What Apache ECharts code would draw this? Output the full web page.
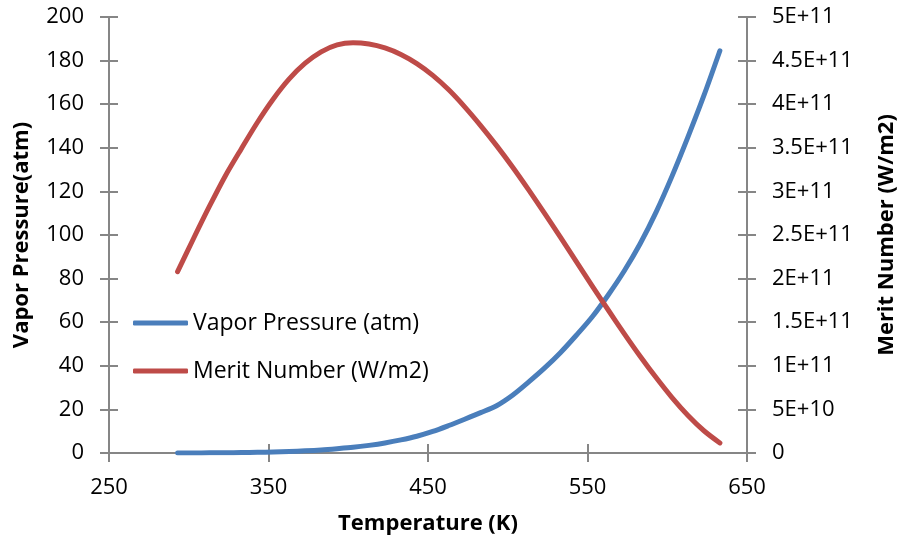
<!DOCTYPE html>
<html>
<head>
<meta charset="utf-8">
<script src="https://cdn.jsdelivr.net/npm/echarts@6/dist/echarts.min.js"></script>
<style>
html,body{margin:0;padding:0;background:#fff;}
#chart{width:906px;height:545px;}
</style>
</head>
<body>
<div id="chart"></div>
<script>
// Temperature (K)
var temperatures = [293,303,313,323,333,343,353,363,373,383,393,403,413,423,433,443,453,463,473,483,493,503,513,523,533,543,553,563,573,583,593,603,613,623,633];
// Vapor Pressure (atm)
var vaporPressure = [0.02,0.04,0.07,0.12,0.2,0.32,0.47,0.7,1.0,1.4,1.96,2.6,3.5,4.6,6.0,7.7,9.9,12.6,15.5,18.5,21.7,26.5,32.5,38.9,46.0,54.0,62.5,72.5,83.5,96.0,110.5,127.0,145.0,164.0,184.5];
// Merit Number (W/m2)
var meritNumber = [2.08e11,2.46e11,2.83e11,3.18e11,3.49e11,3.79e11,4.06e11,4.29e11,4.47e11,4.60e11,4.68e11,4.705e11,4.69e11,4.645e11,4.57e11,4.465e11,4.33e11,4.165e11,3.97e11,3.755e11,3.525e11,3.28e11,3.02e11,2.75e11,2.475e11,2.195e11,1.915e11,1.64e11,1.37e11,1.11e11,0.865e11,0.635e11,0.43e11,0.255e11,0.115e11];

var seriesNames = ['Vapor Pressure (atm)', 'Merit Number (W/m2)'];
var xTitle = 'Temperature (K)';
var yLeftTitle = 'Vapor Pressure(atm)';
var yRightTitle = 'Merit Number (W/m2)';

function pairs(xs, ys){ return xs.map(function(x,i){ return [x, ys[i]]; }); }
function sci(v){
  if (v === 0) return '0';
  var e = Math.floor(Math.log10(v) + 1e-9);
  var m = Math.round(v / Math.pow(10, e) * 10) / 10;
  return String(m) + 'E+' + e;
}

var FONT = '"Open Sans"';
var AX = '#868686';
var TXT = '#000';
var FS = 22;

var chart = echarts.init(document.getElementById('chart'), null, {renderer:'canvas'});
var option = {
  animation:false,
  backgroundColor:'#fff',
  textStyle:{fontFamily:FONT},
  grid:{left:109, right:149, top:17, bottom:92},
  legend:{
    orient:'vertical', left:133, top:311, padding:0,
    icon:'roundRect', itemWidth:55, itemHeight:5, itemGap:24,
    textStyle:{fontFamily:FONT, fontSize:23, color:TXT, lineHeight:24, padding:[0,0,0,0]},
    data: seriesNames
  },
  xAxis:[{
    type:'value', min:250, max:650, interval:100,
    name:xTitle, nameLocation:'middle', nameGap:60,
    nameTextStyle:{fontFamily:FONT, fontSize:FS, fontWeight:'bold', color:TXT},
    axisLine:{show:true, onZero:false, lineStyle:{color:AX, width:2}},
    axisTick:{show:true, inside:false, length:9, lineStyle:{color:AX, width:2}},
    axisLabel:{fontFamily:FONT, fontSize:FS, color:TXT, margin:24},
    splitLine:{show:false}
  },{
    type:'value', min:250, max:650, interval:100, position:'bottom',
    axisLine:{show:false},
    axisTick:{show:true, inside:true, length:9, lineStyle:{color:AX, width:2}},
    axisLabel:{show:false}, splitLine:{show:false}
  }],
  yAxis:[{
    type:'value', min:0, max:200, interval:20, position:'left',
    name:yLeftTitle, nameLocation:'middle', nameGap:76, nameRotate:90,
    nameTextStyle:{fontFamily:FONT, fontSize:FS, fontWeight:'bold', color:TXT},
    axisLine:{show:true, onZero:false, lineStyle:{color:AX, width:2}},
    axisTick:{show:true, inside:false, length:9, lineStyle:{color:AX, width:2}},
    axisLabel:{fontFamily:FONT, fontSize:FS, color:TXT, margin:25},
    splitLine:{show:false}
  },{
    type:'value', min:0, max:5e11, interval:5e10, position:'right',
    name:yRightTitle, nameLocation:'middle', nameGap:129, nameRotate:90,
    nameTextStyle:{fontFamily:FONT, fontSize:FS, fontWeight:'bold', color:TXT},
    axisLine:{show:true, onZero:false, lineStyle:{color:AX, width:2}},
    axisTick:{show:true, inside:false, length:9, lineStyle:{color:AX, width:2}},
    axisLabel:{fontFamily:FONT, fontSize:FS, color:TXT, margin:25, formatter:sci},
    splitLine:{show:false}
  },{
    type:'value', min:0, max:200, interval:20, position:'left',
    axisLine:{show:false},
    axisTick:{show:true, inside:true, length:9, lineStyle:{color:AX, width:2}},
    axisLabel:{show:false}, splitLine:{show:false}
  },{
    type:'value', min:0, max:5e11, interval:5e10, position:'right',
    axisLine:{show:false},
    axisTick:{show:true, inside:true, length:9, lineStyle:{color:AX, width:2}},
    axisLabel:{show:false}, splitLine:{show:false}
  }],
  series:[{
    name:seriesNames[0], type:'line', xAxisIndex:0, yAxisIndex:0,
    data:pairs(temperatures, vaporPressure),
    smooth:0.3, showSymbol:false, symbol:'none',
    lineStyle:{color:'#4A7EBB', width:5, cap:'round', join:'round'},
    itemStyle:{color:'#4A7EBB'}
  },{
    name:seriesNames[1], type:'line', xAxisIndex:0, yAxisIndex:1,
    data:pairs(temperatures, meritNumber),
    smooth:0.3, showSymbol:false, symbol:'none',
    lineStyle:{color:'#BE4B48', width:5, cap:'round', join:'round'},
    itemStyle:{color:'#BE4B48'}
  }]
};
chart.setOption(option);
</script>
</body>
</html>
